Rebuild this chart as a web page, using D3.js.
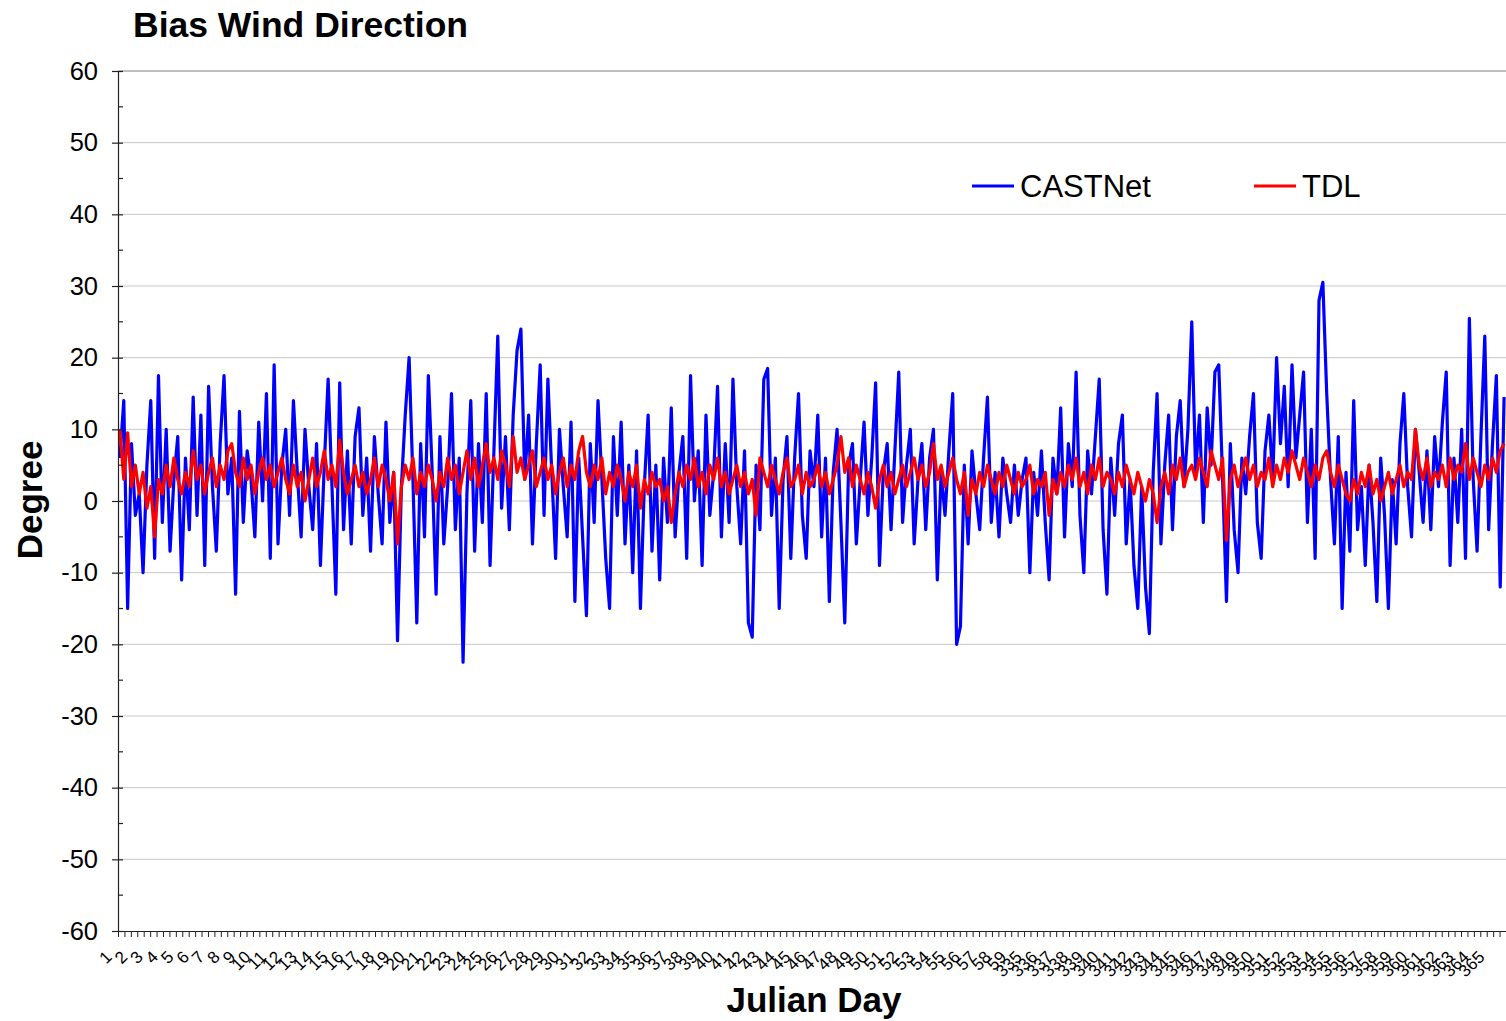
<!DOCTYPE html>
<html>
<head>
<meta charset="utf-8">
<script src="https://cdn.jsdelivr.net/npm/d3@7"></script>
<style>
  body { margin: 0; background: #fff; }
  text { font-family: "Liberation Sans", Arial, sans-serif; fill: #000; }
</style>
</head>
<body>
<svg id="chart" width="1506" height="1021"></svg>
<script>
// winter season days (Jan-Feb, then Dec)
const julianDays = [
  1, 2, 3, 4, 5, 6, 7, 8, 9, 10, 11, 12, 13, 14, 15, 16, 17, 18, 19, 20,
  21, 22, 23, 24, 25, 26, 27, 28, 29, 30, 31, 32, 33, 34, 35, 36, 37, 38, 39, 40,
  41, 42, 43, 44, 45, 46, 47, 48, 49, 50, 51, 52, 53, 54, 55, 56, 57, 58, 59,
  335, 336, 337, 338, 339, 340, 341, 342, 343, 344, 345, 346, 347, 348, 349, 350,
  351, 352, 353, 354, 355, 356, 357, 358, 359, 360, 361, 362, 363, 364, 365
];

const HOURS_PER_DAY = 24;
const SAMPLE_HOURS = 6; // one value read per 6 hours

const castnet = [
  6, 14, -15, 8, -2, 1, -10, 5, 14, -8, 17.5, -3, 10, -7, 3, 9, -11, 6, -4, 14.5,
  -2, 12, -9, 16, 2, -7, 8, 17.5, 1, 6, -13, 12.5, -3, 7, 3, -5, 11, 0, 15, -8,
  19, -6, 5, 10, -2, 14, 4, -5, 10, 2, -4, 8, -9, 5, 17, 2, -13, 16.5, -4, 7,
  -6, 9, 13, -2, 6, -7, 9, 1, -6, 11, -3, 4, -19.5, 2, 12, 20, 3, -17, 8, -5,
  17.5, 4, -13, 9, -6, 2, 15, -4, 6, -22.5, 1, 14, -7, 8, -3, 15, -9, 7, 23, -1,
  9, -4, 12, 21, 24, 3, 12, -6, 8, 19, -2, 17, 4, -8, 10, 2, -5, 11, -14, 6,
  -5, -16, 8, -3, 14, 3, -8, -15, 9, -2, 11, -6, 5, -10, 7, -15, 2, 12, -7, 5,
  -11, 6, -3, 13, -5, 4, 9, -8, 17.5, 0, 7, -9, 12, -2, 4, 16, -5, 8, -3, 17,
  2, -6, 7, -17, -19, 5, -4, 17, 18.5, -2, 6, -15, 3, 9, -8, 6, 15, -2, -8, 7,
  2, 12, -5, 6, -14, 4, 10, -3, -17, 5, 8, -6, 3, 11, -2, 6, 16.5, -9, 4, 8,
  -4, 7, 18, -3, 5, 10, -6, 3, 8, -4, 6, 10, -11, 4, -2, 7, 15, -20, -17.5, 5,
  -6, 7, 1, -4, 6, 14.5, -3, 4, -5, 6, 1, -3, 5, -2, 3, 6, -10, 4, -2, 7,
  -3, -11, 6, 1, 13, -5, 8, 2, 18, -2, -10, 7, 1, 9, 17, -4, -13, 6, -2, 8,
  12, -6, 3, -9, -15, 2, -12, -18.5, 4, 15, -6, 5, 12, -4, 9, 14, 2, 10, 25, 4,
  12, -3, 13, 5, 18, 19, 3, -14, 8, -4, -10, 6, 1, 9, 15, -3, -8, 7, 12, 3,
  20, 8, 16, 2, 19, 6, 12, 18, -3, 10, -8, 28, 30.5, 15, 3, -6, 9, -15, 4, -7,
  14, -4, 2, -9, 5, -3, -14, 6, -2, -15, 3, -6, 8, 15, 2, -5, 10, 4, -3, 7,
  -4, 9, 2, 11, 18, -9, 6, -3, 10, -8, 25.5, 3, -7, 9, 23, -4, 8, 17.5, -12, 14.5
];

const tdl = [
  10, 3, 9.5, 2, 5, 1, 4, -1, 2, -5, 3, 1, 5, 2, 6, 3, 1, 4, 2, 7,
  3, 5, 1, 4, 6, 2, 5, 3, 7, 8, 4, 2, 6, 3, 5, 1, 4, 6, 3, 5,
  2, 4, 6, 3, 1, 5, 2, 4, 0, 3, 6, 2, 4, 7, 3, 5, 2, 8.5, 4, 1,
  3, 5, 2, 4, 1, 3, 6, 2, 5, 3, 0, 4, -6, 2, 5, 3, 6, 1, 4, 2,
  5, 3, 0, 4, 2, 6, 3, 5, 1, 4, 7, 3, 6, 2, 5, 8, 4, 6, 3, 7,
  5, 2, 9, 4, 6, 3, 5, 7, 2, 4, 6, 3, 5, 1, 4, 6, 2, 5, 3, 7,
  9, 4, 2, 5, 3, 6, 1, 4, 2, 5, 3, 0, 4, 2, 5, -1, 3, 1, 4, 2,
  3, 0, 2, -3, 1, 4, 2, 5, 3, 6, 2, 4, 1, 5, 3, 6, 2, 4, 1, 3,
  5, 2, 4, 1, 3, -2, 6, 4, 2, 5, 3, 1, 4, 6, 2, 3, 5, 1, 4, 2,
  3, 5, 2, 4, 1, 3, 5, 9, 4, 6, 2, 5, 3, 1, 4, 2, -1, 3, 5, 2,
  4, 1, 3, 5, 2, 4, 6, 3, 5, 2, 4, 8, 3, 5, 2, 4, 6, 3, 1, 4,
  -2, 3, 1, 4, 2, 5, 3, 1, 4, 2, 5, 3, 1, 4, 2, 3, 5, 1, 3, 2,
  4, -2, 3, 1, 4, 2, 5, 3, 6, 2, 4, 1, 5, 3, 6, 2, 4, 3, 1, 4,
  2, 5, 3, 1, 4, 2, 0, 3, 1, -3, 2, 4, 1, 5, 3, 6, 2, 4, 5, 3,
  6, 4, 2, 7, 5, 3, 6, -5.5, 3, 5, 2, 4, 6, 3, 5, 2, 4, 3, 6, 2,
  5, 3, 6, 4, 7, 5, 3, 6, 4, 2, 5, 3, 6, 7, 4, 2, 5, 3, 1, 0,
  3, 1, 4, 2, 5, 1, 3, 0, 2, 4, 1, 3, 5, 2, 4, 3, 10, 5, 3, 6,
  2, 4, 3, 5, 2, 6, 3, 5, 4, 8, 3, 6, 4, 2, 5, 3, 6, 4, 7, 8
];

const yTicks = [-60, -50, -40, -30, -20, -10, 0, 10, 20, 30, 40, 50, 60];
const yMinorTicks = [-55, -45, -35, -25, -15, -5, 5, 15, 25, 35, 45, 55];

const series = [
  { name: 'CASTNet', values: castnet, color: '#0000ff' },
  { name: 'TDL', values: tdl, color: '#ff0000' }
];

const PAD = { left: 118, right: 0, top: 71, bottom: 90 };
const W = 1506, H = 1021;

const svg = d3.select('#chart');

const totalHours = julianDays.length * HOURS_PER_DAY;

const scaleX = d3.scaleLinear()
  .domain([0, totalHours])
  .range([PAD.left, W - PAD.right]);

const scaleY = d3.scaleLinear()
  .domain([-60, 60])
  .range([H - PAD.bottom, PAD.top]);

// gridlines
svg.append('g')
  .attr('class', 'grid')
  .selectAll('line')
  .data(yTicks.filter(d => d > -60 && d < 60))
  .enter()
  .append('line')
  .attr('x1', PAD.left)
  .attr('x2', W)
  .attr('y1', d => scaleY(d))
  .attr('y2', d => scaleY(d))
  .attr('stroke', '#c8c8c8')
  .attr('stroke-width', 1);

// top border of plot area
svg.append('line')
  .attr('x1', PAD.left)
  .attr('x2', W)
  .attr('y1', scaleY(60))
  .attr('y2', scaleY(60))
  .attr('stroke', '#808080')
  .attr('stroke-width', 1.2);

// lines
const line = d3.line()
  .x((d, i) => scaleX(i * SAMPLE_HOURS + SAMPLE_HOURS / 2))
  .y(d => scaleY(d));

svg.append('g')
  .attr('class', 'series')
  .selectAll('path')
  .data(series)
  .enter()
  .append('path')
  .attr('d', d => line(d.values))
  .attr('fill', 'none')
  .attr('stroke', d => d.color)
  .attr('stroke-width', 3.2)
  .attr('stroke-linejoin', 'round');

// y axis
const axisY = d3.axisLeft(scaleY)
  .tickValues(yTicks)
  .tickSizeInner(6)
  .tickSizeOuter(0)
  .tickPadding(14)
  .tickFormat(d => d);

const gy = svg.append('g')
  .attr('class', 'axis axis-y')
  .attr('transform', 'translate(' + PAD.left + ',0)')
  .call(axisY);

gy.select('.domain').attr('stroke', '#222').attr('stroke-width', 1.2);
gy.selectAll('.tick line')
  .attr('x1', 5)
  .attr('stroke', '#222')
  .attr('stroke-width', 1.2);
gy.selectAll('.tick text')
  .style('font-size', '25.5px')
  .style('font-family', '"Liberation Sans", Arial, sans-serif');

gy.selectAll('.minor')
  .data(yMinorTicks)
  .enter()
  .append('line')
  .attr('class', 'minor')
  .attr('x1', 0)
  .attr('x2', 5)
  .attr('y1', d => scaleY(d))
  .attr('y2', d => scaleY(d))
  .attr('stroke', '#222')
  .attr('stroke-width', 1.2);

// x axis: tick every 10 hours, label each day
const axisX = d3.axisBottom(scaleX)
  .tickValues(d3.range(0, totalHours + 1, 10))
  .tickSizeInner(6)
  .tickSizeOuter(0)
  .tickFormat('');

const gx = svg.append('g')
  .attr('class', 'axis axis-x')
  .attr('transform', 'translate(0,' + scaleY(-60) + ')')
  .call(axisX);

gx.select('.domain').attr('stroke', '#222').attr('stroke-width', 1.2);
gx.selectAll('.tick line').attr('stroke', '#222').attr('stroke-width', 1);

svg.append('g')
  .attr('class', 'day-labels')
  .selectAll('text')
  .data(julianDays)
  .enter()
  .append('text')
  .attr('transform', (d, i) => 'translate(' + (scaleX(i * HOURS_PER_DAY) - 5) + ',' + 958 + ') rotate(-45)')
  .attr('text-anchor', 'end')
  .style('font-size', '17px')
  .text(d => d);

// titles
svg.append('text')
  .attr('x', 133)
  .attr('y', 37)
  .style('font-size', '35.5px')
  .style('font-weight', 'bold')
  .text('Bias Wind Direction');

svg.append('text')
  .attr('x', 814)
  .attr('y', 1012)
  .attr('text-anchor', 'middle')
  .style('font-size', '35px')
  .style('font-weight', 'bold')
  .text('Julian Day');

svg.append('text')
  .attr('transform', 'translate(42,500) rotate(-90)')
  .attr('text-anchor', 'middle')
  .style('font-size', '35px')
  .style('font-weight', 'bold')
  .text('Degree');

// legend
const legendPos = [{ x: 972 }, { x: 1254 }];
const legend = svg.append('g')
  .attr('class', 'legend')
  .selectAll('g')
  .data(series)
  .enter()
  .append('g')
  .attr('transform', (d, i) => 'translate(' + legendPos[i].x + ',186)');

legend.append('line')
  .attr('x1', 0)
  .attr('x2', 42)
  .attr('stroke', d => d.color)
  .attr('stroke-width', 3);

legend.append('text')
  .attr('x', 48)
  .attr('y', 11)
  .style('font-size', '31px')
  .text(d => d.name);
</script>
</body>
</html>
